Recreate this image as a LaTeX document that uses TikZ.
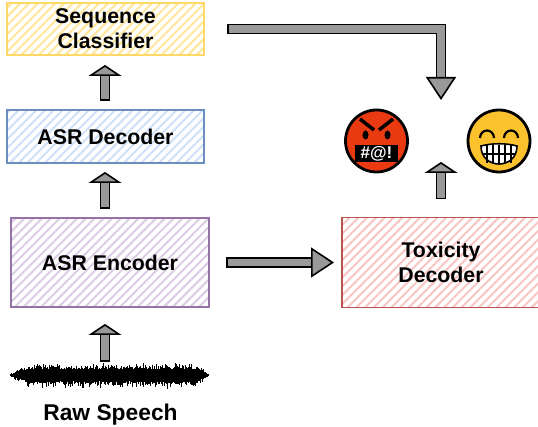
\documentclass[tikz,border=0pt]{standalone}
\usepackage{fontspec}
\setmainfont{Liberation Sans}
\usetikzlibrary{arrows.meta,patterns.meta}

\definecolor{arrowgray}{HTML}{999999}
\definecolor{angryred}{HTML}{EA3A12}
\definecolor{grinyellow}{HTML}{FCC22D}
\definecolor{clsline}{HTML}{FFD966}
\definecolor{clshatch}{HTML}{FFE699}
\definecolor{decline}{HTML}{6C8EBF}
\definecolor{dechatch}{HTML}{CFE0F8}
\definecolor{encline}{HTML}{9673A6}
\definecolor{enchatch}{HTML}{DCCDE5}
\definecolor{toxline}{HTML}{B85450}
\definecolor{toxhatch}{HTML}{F8C5C3}

\tikzset{
  hatchbox/.style 2 args={draw=#1,pattern color=#2,line width=1.4pt,outer sep=0pt,inner sep=0pt,align=center,
    pattern={Lines[angle=45,distance=6.2pt,line width=2pt]},
    font=\bfseries\fontsize{21.3}{25}\selectfont,text=black},
  blockarrow/.style={draw=black,line width=1.6pt,double=arrowgray,double distance=7.5pt,line cap=rect},
  smalltip/.style={-{Triangle[length=11pt,width=33pt,fill=arrowgray,line width=1.6pt,line cap=butt]}},
  bigtip/.style={-{Triangle[length=23pt,width=30pt,fill=arrowgray,line width=1.6pt,line cap=butt]}},
  facenode/.style={circle,draw=black,line width=2.8pt,minimum size=62pt,inner sep=0pt,outer sep=0pt}
}

\begin{document}
\begin{tikzpicture}[x=1pt,y=-1pt]
\useasboundingbox (0,0) rectangle (538,427);

% boxes
\node[hatchbox={clsline}{clshatch},minimum width=197pt,minimum height=52pt] (Cls) at (105.5,29) {Sequence\\Classifier};
\node[hatchbox={decline}{dechatch},minimum width=197pt,minimum height=53pt] (Dec) at (105.5,136.5) {ASR Decoder};
\node[hatchbox={encline}{enchatch},minimum width=198pt,minimum height=89pt] (Enc) at (110,262.5) {ASR Encoder};
\node[hatchbox={toxline}{toxhatch},minimum width=198pt,minimum height=90pt] (Tox) at (441,262.5) {Toxicity\\Decoder};

% waveform
\pgfmathsetseed{7}
\foreach \i in {10.5,11,...,208} {
  \pgfmathsetmacro{\env}{min(1,min((\i-8)/20,(210-\i)/14))}
  \pgfmathsetmacro{\up}{\env*(5.5+rnd*rnd*7)}
  \pgfmathsetmacro{\dn}{\env*(6+rnd*rnd*8)}
  \draw[line width=.7pt] (\i,375-\up) -- (\i,375+\dn);
}
\coordinate (Wave) at (105,375);
\node[font=\bfseries\fontsize{22.8}{25}\selectfont] (Raw) at (110.5,415) {Raw Speech};

% faces
\node[facenode,fill=angryred] (Angry) at (376.5,141) {};
\node[facenode,fill=grinyellow] (Grin) at (499,141) {};

% angry face
\draw[line width=3.5pt] (360,119) -- (374,130);
\draw[line width=3.5pt] (393,119) -- (379,130);
\fill (365.5,135) ellipse (3pt and 4.5pt);
\fill (387.5,135) ellipse (3pt and 4.5pt);
\node[fill=black,text=white,minimum width=43pt,minimum height=17pt,inner sep=0pt,
  font=\bfseries\fontsize{17}{17}\selectfont] (Curse) at (376.5,153.5) {\#@!};

% grin face
\draw[line width=2.2pt] (480,138) arc[start angle=180,end angle=0,x radius=7pt,y radius=7.5pt];
\draw[line width=2.2pt] (504,138) arc[start angle=180,end angle=0,x radius=7pt,y radius=7.5pt];
\draw[line width=1.6pt,fill=white] (481,146) .. controls (492,143) and (506,143) .. (517,146)
  .. controls (517,158) and (508,164) .. (499,164)
  .. controls (490,164) and (481,158) .. (481,146) -- cycle;
\foreach \x in {487,493,...,511} {
  \draw[line width=1.3pt] (\x,145) -- (\x,163);
}
\draw[line width=1.3pt] (482,154) -- (516,154);

% arrows
\coordinate (Verdict) at (441,100);
\draw[blockarrow,smalltip,shorten <=14.4pt,shorten >=10pt] (Wave |- Dec.north) -- (Wave |- Cls.south);
\draw[blockarrow,smalltip,shorten <=14.4pt,shorten >=9pt] (Wave |- Enc.north) -- (Wave |- Dec.south);
\draw[blockarrow,smalltip,shorten <=18.4pt,shorten >=17pt] (Wave) -- (Wave |- Enc.south);
\draw[blockarrow,bigtip,shorten <=22.4pt,shorten >=8pt] (Enc.east) -- (Tox.west);
\draw[blockarrow,bigtip,shorten <=28.4pt] (Cls.east) -| (Verdict);
\draw[blockarrow,smalltip,shorten <=23.4pt] (Tox.north) -- (441,162);
\end{tikzpicture}
\end{document}
